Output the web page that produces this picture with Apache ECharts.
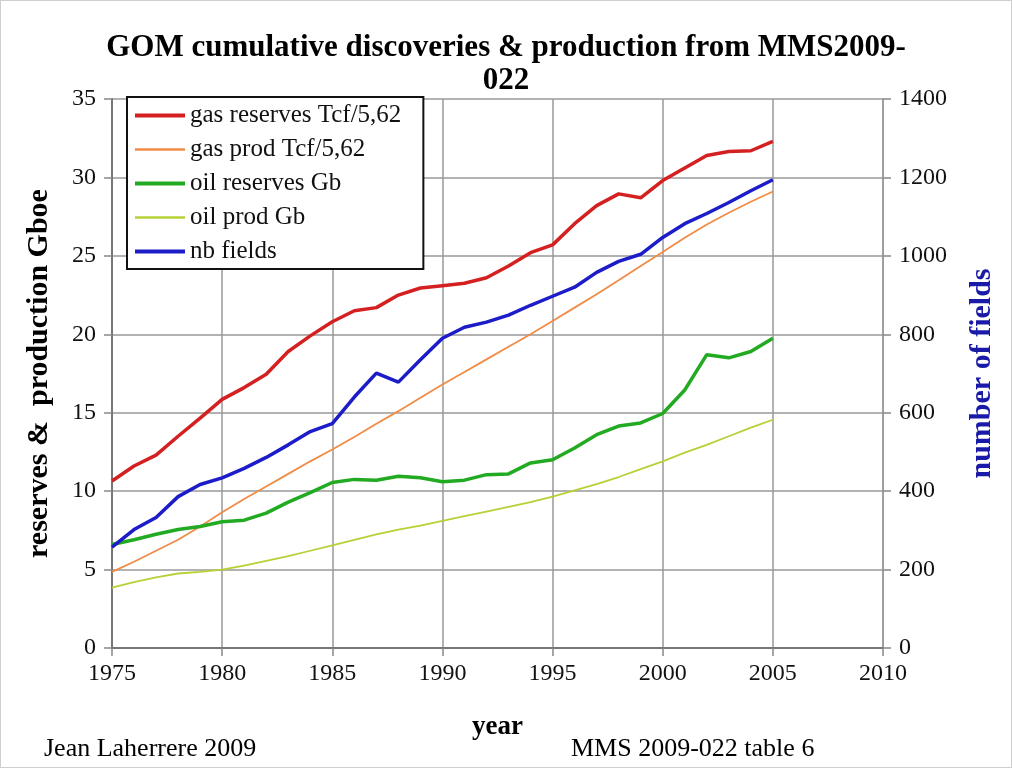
<!DOCTYPE html>
<html>
<head>
<meta charset="utf-8">
<script src="https://cdn.jsdelivr.net/npm/echarts@6/dist/echarts.min.js"></script>
<style>
  html, body { margin: 0; padding: 0; background: #ffffff; }
  #chart { width: 1012px; height: 768px; box-sizing: border-box; border: 1px solid #cfcfcf; }
</style>
</head>
<body>
<div id="chart"></div>
<script>
// years 1975..2005
var years = [1975, 1976, 1977, 1978, 1979, 1980, 1981, 1982, 1983, 1984, 1985, 1986, 1987, 1988, 1989, 1990,
  1991, 1992, 1993, 1994, 1995, 1996, 1997, 1998, 1999, 2000, 2001, 2002, 2003, 2004, 2005];

// Gboe
var gasReserves = [10.65, 11.6, 12.3, 13.5, 14.65, 15.85, 16.6, 17.45, 18.9, 19.9, 20.8, 21.5, 21.7, 22.5, 22.95, 23.1,
  23.25, 23.6, 24.35, 25.2, 25.7, 27.05, 28.2, 28.95, 28.7, 29.8, 30.6, 31.4, 31.65, 31.7, 32.3];
var gasProd = [4.85, 5.5, 6.2, 6.9, 7.75, 8.65, 9.5, 10.3, 11.1, 11.9, 12.65, 13.45, 14.3, 15.1, 15.95, 16.8,
  17.6, 18.4, 19.2, 20.0, 20.85, 21.7, 22.55, 23.45, 24.35, 25.25, 26.15, 27.0, 27.75, 28.45, 29.1];
var oilReserves = [6.6, 6.9, 7.25, 7.55, 7.75, 8.05, 8.15, 8.6, 9.3, 9.9, 10.55, 10.75, 10.7, 10.95, 10.85, 10.6,
  10.7, 11.05, 11.1, 11.8, 12.0, 12.75, 13.6, 14.15, 14.35, 14.95, 16.45, 18.7, 18.5, 18.9, 19.75];
var oilProd = [3.85, 4.2, 4.5, 4.75, 4.85, 5.0, 5.25, 5.55, 5.85, 6.2, 6.55, 6.9, 7.25, 7.55, 7.8, 8.1,
  8.4, 8.7, 9.0, 9.3, 9.65, 10.05, 10.45, 10.9, 11.4, 11.9, 12.45, 12.95, 13.5, 14.05, 14.55];
// number of fields (right axis)
var nbFields = [257, 302, 333, 386, 417, 434, 458, 486, 518, 552, 572, 640, 701, 678, 735, 790,
  818, 831, 849, 874, 897, 920, 958, 986, 1004, 1047, 1082, 1108, 1136, 1166, 1194];

var seriesNames = ['gas reserves Tcf/5,62', 'gas prod Tcf/5,62', 'oil reserves Gb', 'oil prod Gb', 'nb fields'];
var lineWidths = [3.5, 1.8, 3.5, 1.8, 3.5];
var colors = ['#d42020', '#f08c46', '#22aa22', '#b4d236', '#1c1cc8'];

function pairs(vals) {
  return years.map(function (y, i) { return [y, vals[i]]; });
}
function plain(v) { return String(v); }

var serif = '"Liberation Serif", "DejaVu Serif", serif';
var gridLine = { show: true, lineStyle: { color: '#999999', width: 1.5 } };
var tickStyle = { show: true, length: 8, lineStyle: { color: '#888', width: 1.5 } };

var allValues = [gasReserves, gasProd, oilReserves, oilProd, nbFields];
var series = allValues.map(function (vals, i) {
  return {
    name: seriesNames[i], type: 'line', yAxisIndex: i === 4 ? 1 : 0, data: pairs(vals),
    symbol: 'none', color: colors[i], lineStyle: { width: lineWidths[i], color: colors[i] }
  };
});

var chart = echarts.init(document.getElementById('chart'));
chart.setOption({
  animation: false,
  backgroundColor: '#ffffff',
  title: [
    {
      text: 'GOM cumulative discoveries & production from MMS2009-\n022',
      left: 'center', top: 25,
      textStyle: { fontFamily: serif, fontSize: 31, fontWeight: 'bold', color: '#000', lineHeight: 33 }
    },
    {
      text: 'Jean Laherrere 2009', left: 38, top: 730,
      textStyle: { fontFamily: serif, fontSize: 26, fontWeight: 'normal', color: '#000' }
    },
    {
      text: 'MMS 2009-022 table 6', left: 565, top: 730,
      textStyle: { fontFamily: serif, fontSize: 26, fontWeight: 'normal', color: '#000' }
    }
  ],
  legend: {
    data: seriesNames.map(function (n, i) {
      return { name: n, lineStyle: { width: lineWidths[i] + 0.5, color: colors[i] } };
    }),
    orient: 'vertical',
    left: 126, top: 96,
    padding: [6, 22, 5, 6],
    backgroundColor: '#ffffff',
    borderColor: '#111',
    borderWidth: 2,
    itemWidth: 50,
    itemHeight: 14,
    itemGap: 9,
    itemStyle: { opacity: 0 },
    textStyle: { fontFamily: serif, fontSize: 25, lineHeight: 25, color: '#111' }
  },
  grid: { left: 111, right: 128, top: 98, bottom: 119 },
  xAxis: {
    type: 'value', min: 1975, max: 2010, interval: 5,
    name: 'year', nameLocation: 'middle', nameGap: 66,
    nameTextStyle: { fontFamily: serif, fontSize: 27, fontWeight: 'bold', color: '#000' },
    axisLine: { show: true, lineStyle: { color: '#777', width: 2 } },
    axisTick: tickStyle,
    axisLabel: { fontFamily: serif, fontSize: 24, color: '#111', margin: 14, formatter: plain },
    splitLine: gridLine
  },
  yAxis: [
    {
      type: 'value', min: 0, max: 35, interval: 5, position: 'left',
      name: 'reserves &  production Gboe', nameLocation: 'middle', nameGap: 58, nameRotate: 90,
      nameTextStyle: { fontFamily: serif, fontSize: 30, fontWeight: 'bold', color: '#000' },
      axisLine: { show: true, lineStyle: { color: '#777', width: 2 } },
      axisTick: tickStyle,
      axisLabel: { fontFamily: serif, fontSize: 24, color: '#111', margin: 16, formatter: plain },
      splitLine: gridLine
    },
    {
      type: 'value', min: 0, max: 1400, interval: 200, position: 'right',
      name: 'number of fields', nameLocation: 'middle', nameGap: 84, nameRotate: 90,
      nameTextStyle: { fontFamily: serif, fontSize: 30, fontWeight: 'bold', color: '#1a1aa8' },
      axisLine: { show: true, lineStyle: { color: '#999999', width: 1.5 } },
      axisTick: tickStyle,
      axisLabel: { fontFamily: serif, fontSize: 24, color: '#111', margin: 16, formatter: plain },
      splitLine: { show: false }
    }
  ],
  series: series
});
</script>
</body>
</html>
